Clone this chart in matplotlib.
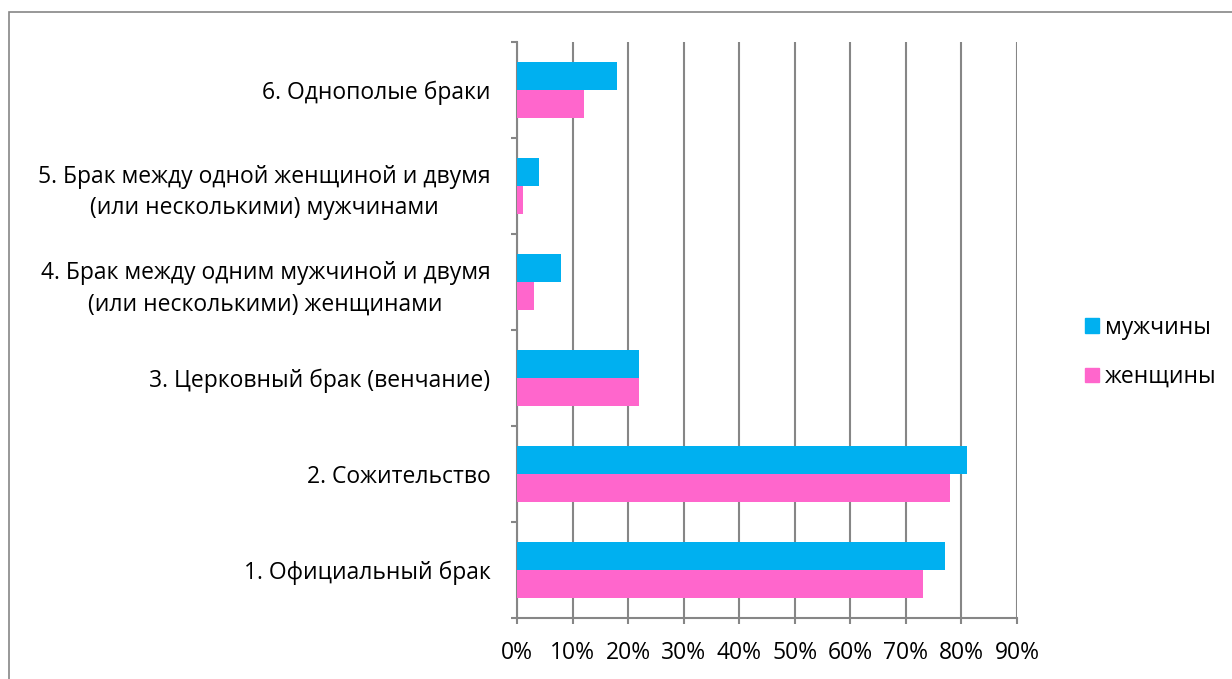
import numpy as np
import matplotlib.pyplot as plt
from matplotlib.patches import Patch, Rectangle
from matplotlib.ticker import FixedLocator, PercentFormatter, NullFormatter

plt.rcParams['font.family'] = ['Open Sans', 'DejaVu Sans']

categories = [
    '1. Официальный брак',
    '2. Сожительство',
    '3. Церковный брак (венчание)',
    '4. Брак между одним мужчиной и двумя\n(или несколькими) женщинами',
    '5. Брак между одной женщиной и двумя\n(или несколькими) мужчинами',
    '6. Однополые браки',
]
men = [77, 81, 22, 8, 4, 18]
women = [73, 78, 22, 3, 1, 12]
series_names = ['мужчины', 'женщины']

c_men = '#00B0F0'
c_women = '#FF66CC'
grey = '#868686'
fs = 16.5

fig = plt.figure(figsize=(12.32, 6.79), dpi=100)
ax = fig.add_axes([0.4196, 0.0898, 0.4059, 0.8483])

y = np.arange(len(categories))
h = 0.29
ax.barh(y + h / 2, men, height=h, color=c_men, zorder=3)
ax.barh(y - h / 2, women, height=h, color=c_women, zorder=3)

ax.set_xlim(0, 90)
ax.set_ylim(-0.5, len(categories) - 0.5)
ax.set_xticks(np.arange(0, 91, 10))
ax.xaxis.set_major_formatter(PercentFormatter(decimals=0))
ax.grid(axis='x', color=grey, linewidth=1.5, zorder=0)

# category labels centred, ticks on the boundaries
ax.set_yticks(y)
ax.set_yticklabels(categories, multialignment='center', linespacing=1.4)
ax.tick_params(axis='y', length=0, pad=19, labelsize=fs)
ax.yaxis.set_minor_locator(FixedLocator(np.arange(-0.5, len(categories), 1)))
ax.yaxis.set_minor_formatter(NullFormatter())
ax.tick_params(axis='y', which='minor', length=4.5, width=1.5, color=grey)
ax.tick_params(axis='x', length=4.5, width=1.5, color=grey, labelsize=16.5, pad=12)

for s in ['top', 'right']:
    ax.spines[s].set_visible(False)
for s in ['left', 'bottom']:
    ax.spines[s].set_color(grey)
    ax.spines[s].set_linewidth(1.5)

handles = [Patch(color=c_men), Patch(color=c_women)]
fig.legend(handles, series_names, loc='center left', bbox_to_anchor=(0.8805, 0.481),
           frameon=False, fontsize=fs, handlelength=0.62, handleheight=0.62,
           handletextpad=0.25, labelspacing=1.1, borderaxespad=0, borderpad=0)

fig.patches.append(Rectangle((9 / 1232, -0.05), 1.2, 1 - 12 / 679 + 0.05,
                             transform=fig.transFigure, fill=False,
                             edgecolor=grey, linewidth=1.2))

fig.savefig('out.png', dpi=100)
